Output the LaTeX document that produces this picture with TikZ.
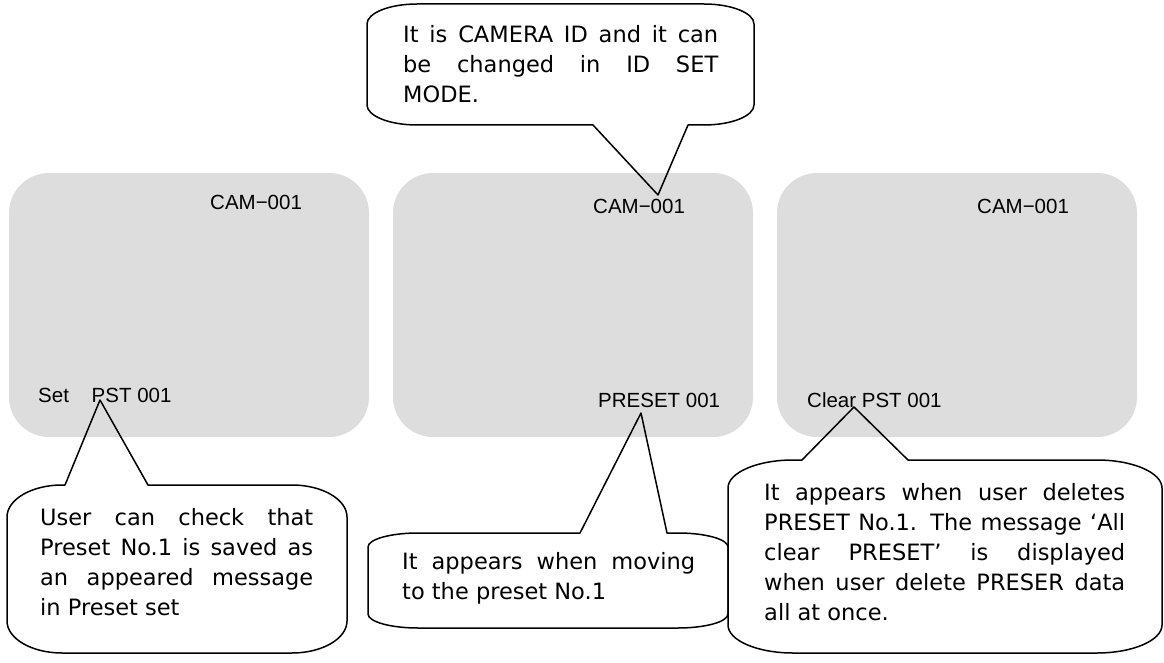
\documentclass[tikz,border=0pt]{standalone}
\usepackage{fontspec}
\newfontfamily\screenfont{Liberation Sans}
\newfontfamily\notefont{DejaVu Sans}
\usepackage{xcolor}
\definecolor{screengray}{RGB}{221,221,221}

% #1 left, #2 edge with tail, #3 right, #4 other edge, #5/#6 corner radii,
% #7/#8 tail base x, #9 tip
\newcommand{\bubble}[9]{%
  \draw[bubble] (#7,#2) -- ({#1+#5},#2)
    .. controls ({#1+0.45*(#5)},#2) and (#1,{#2+0.45*(#6)}) .. (#1,{#2+(#6)})
    -- (#1,{#4-(#6)})
    .. controls (#1,{#4-0.45*(#6)}) and ({#1+0.45*(#5)},#4) .. ({#1+#5},#4)
    -- ({#3-(#5)},#4)
    .. controls ({#3-0.45*(#5)},#4) and (#3,{#4-0.45*(#6)}) .. (#3,{#4-(#6)})
    -- (#3,{#2+(#6)})
    .. controls (#3,{#2+0.45*(#6)}) and ({#3-0.45*(#5)},#2) .. ({#3-(#5)},#2)
    -- (#8,#2) -- (#9) -- cycle;}

\begin{document}
\begin{tikzpicture}[x=1pt, y=-1pt,
  screen/.style={fill=screengray, rounded corners=40pt, minimum width=360pt,
    minimum height=264pt, inner sep=0pt},
  osd/.style={anchor=base west, inner sep=0pt,
    font=\fontsize{20.5}{24}\selectfont\screenfont},
  note/.style={anchor=base west, inner sep=0pt, align=justify,
    font=\fontsize{22.5}{30}\selectfont\notefont},
  bubble/.style={line width=1.5pt, line join=round}]
  \useasboundingbox (0,0) rectangle (1164,663);

  % three monitor screens
  \node[screen] (scr1) at (189,305) {};
  \node[screen] (scr2) at (573,305) {};
  \node[screen] (scr3) at (957,305) {};

  \node[osd] (cam1) at (210,210) {CAM−001};
  \node[osd] (cam2) at (593,214) {CAM−001};
  \node[osd] (cam3) at (977,214) {CAM−001};
  \node[osd] (pst1) at (38,402) {Set\ \ \ \ PST 001};
  \node[osd] (pst2) at (598,407) {PRESET 001};
  \node[osd] (pst3) at (807,407) {Clear PST 001};

  \coordinate (tipcam) at (658,195);
  \coordinate (tipset) at (100,400);
  \coordinate (tippre) at (641,413);
  \coordinate (tipclr) at (854,407);

  % callouts
  \bubble{367}{125}{754}{4}{50}{-20}{593}{688}{tipcam}
  \bubble{7}{485}{347}{653}{55}{32}{65}{148}{tipset}
  \bubble{368}{533}{728}{628}{50}{14}{580}{667}{tippre}
  \bubble{728}{460}{1162}{653}{65}{28}{802}{908}{tipclr}

  \node[note, text width=315pt] (idnote) at (403,43)
    {It is CAMERA ID and it can\linebreak be changed in ID SET\linebreak MODE.};
  \node[note, text width=273pt] (setnote) at (40,525)
    {User can check that\linebreak Preset No.1 is saved as\linebreak
     an appeared message\linebreak in Preset set};
  \node[note, text width=293pt] (prenote) at (402,569)
    {It appears when moving\linebreak to the preset No.1};
  \node[note, text width=361pt] (clrnote) at (764,500)
    {It appears when user deletes\linebreak PRESET No.1. The message ‘All\linebreak
     clear PRESET’ is displayed\linebreak when user delete PRESER data\linebreak
     all at once.};
\end{tikzpicture}
\end{document}
